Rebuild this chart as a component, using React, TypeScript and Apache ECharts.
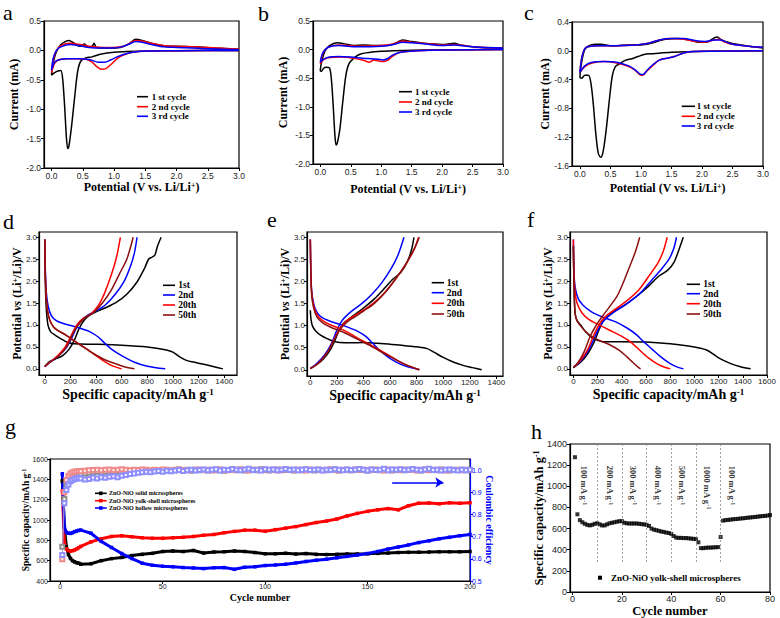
import React, { useEffect, useRef } from 'react';
import * as echarts from 'echarts';

const SERIF = '"Liberation Serif", "Times New Roman", serif';
const SANS = '"Liberation Sans", Arial, sans-serif';

// ---------- tick values ----------
const cvTicksX = [0, 0.5, 1, 1.5, 2, 2.5, 3];
const cvTicksYab = [-2, -1.5, -1, -0.5, 0, 0.5];
const cvTicksYc = [-1.6, -1.2, -0.8, -0.4, 0, 0.4];
const gcTicksY = [0, 0.5, 1, 1.5, 2, 2.5, 3];
const gcTicksXde = [0, 200, 400, 600, 800, 1000, 1200, 1400];
const gcTicksXf = [0, 200, 400, 600, 800, 1000, 1200, 1400, 1600];
const gTicksX = [0, 50, 100, 150, 200];
const gTicksY = [400, 600, 800, 1000, 1200, 1400, 1600];
const gTicksCE = [0.5, 0.6, 0.7, 0.8, 0.9, 1.0];
const hTicksX = [0, 20, 40, 60, 80];
const hTicksY = [0, 200, 400, 600, 800, 1000, 1200, 1400];

// ---------- CV curves (potential V, current mA) ----------
const cvA1 = [[3.0,0.0],[2.0,-0.005],[1.5,-0.01],[1.2,-0.02],[1.0,-0.03],[0.8,-0.06],[0.65,-0.11],[0.55,-0.13],[0.47,-0.18],[0.42,-0.35],[0.37,-0.8],[0.32,-1.3],[0.28,-1.62],[0.26,-1.67],[0.24,-1.5],[0.21,-0.95],[0.18,-0.5],[0.15,-0.34],[0.1,-0.35],[0.05,-0.38],[0.0,-0.42],[0.03,-0.2],[0.08,-0.02],[0.15,0.1],[0.22,0.15],[0.28,0.17],[0.35,0.13],[0.45,0.07],[0.53,0.11],[0.58,0.06],[0.65,0.07],[0.68,0.12],[0.72,0.05],[0.9,0.04],[1.1,0.05],[1.25,0.12],[1.35,0.19],[1.45,0.17],[1.6,0.12],[1.8,0.08],[2.0,0.07],[2.3,0.06],[2.6,0.04],[3.0,0.02]];
const cvA2 = [[3.0,0.0],[2.0,-0.005],[1.5,-0.01],[1.3,-0.03],[1.15,-0.08],[1.05,-0.14],[0.95,-0.24],[0.87,-0.31],[0.8,-0.32],[0.73,-0.28],[0.65,-0.2],[0.55,-0.15],[0.4,-0.14],[0.25,-0.14],[0.12,-0.16],[0.05,-0.22],[0.0,-0.38],[0.03,-0.15],[0.08,0.0],[0.15,0.08],[0.3,0.12],[0.45,0.1],[0.6,0.07],[0.8,0.05],[1.0,0.05],[1.15,0.07],[1.25,0.12],[1.35,0.17],[1.45,0.16],[1.6,0.12],[1.8,0.08],[2.0,0.07],[2.5,0.05],[3.0,0.02]];
const cvA3 = [[3.0,0.0],[2.0,-0.005],[1.5,-0.01],[1.3,-0.03],[1.15,-0.07],[1.05,-0.11],[0.95,-0.16],[0.85,-0.2],[0.75,-0.2],[0.62,-0.16],[0.45,-0.14],[0.25,-0.14],[0.12,-0.16],[0.05,-0.2],[0.0,-0.34],[0.03,-0.12],[0.08,0.0],[0.15,0.06],[0.3,0.1],[0.45,0.08],[0.6,0.05],[0.8,0.04],[1.0,0.04],[1.15,0.07],[1.25,0.11],[1.35,0.15],[1.45,0.14],[1.6,0.1],[1.8,0.06],[2.0,0.05],[2.5,0.03],[3.0,0.01]];
const cvB1 = [[3.0,0.0],[2.0,-0.005],[1.5,-0.01],[1.2,-0.02],[1.0,-0.03],[0.8,-0.05],[0.65,-0.08],[0.55,-0.15],[0.47,-0.25],[0.42,-0.45],[0.37,-0.9],[0.32,-1.4],[0.28,-1.63],[0.26,-1.67],[0.24,-1.5],[0.21,-0.95],[0.18,-0.5],[0.15,-0.32],[0.1,-0.31],[0.05,-0.33],[0.02,-0.38],[0.0,-0.37],[0.03,-0.18],[0.08,-0.02],[0.15,0.07],[0.28,0.12],[0.4,0.1],[0.55,0.07],[0.7,0.08],[0.9,0.07],[1.1,0.07],[1.25,0.12],[1.35,0.17],[1.5,0.14],[1.7,0.11],[2.0,0.09],[2.2,0.11],[2.3,0.08],[2.6,0.04],[3.0,0.03]];
const cvB2 = [[3.0,0.0],[2.0,-0.005],[1.6,-0.02],[1.3,-0.05],[1.18,-0.12],[1.1,-0.19],[1.03,-0.21],[0.96,-0.2],[0.88,-0.18],[0.8,-0.22],[0.72,-0.19],[0.55,-0.15],[0.35,-0.13],[0.15,-0.14],[0.05,-0.18],[0.0,-0.25],[0.03,-0.1],[0.08,0.0],[0.15,0.05],[0.3,0.08],[0.6,0.06],[1.0,0.07],[1.2,0.1],[1.35,0.15],[1.5,0.13],[1.8,0.1],[2.0,0.08],[2.2,0.09],[2.35,0.07],[2.6,0.04],[3.0,0.03]];
const cvB3 = [[3.0,0.0],[2.0,-0.005],[1.6,-0.02],[1.3,-0.05],[1.18,-0.1],[1.1,-0.16],[1.03,-0.18],[0.95,-0.17],[0.85,-0.16],[0.7,-0.15],[0.5,-0.13],[0.3,-0.12],[0.15,-0.13],[0.05,-0.17],[0.0,-0.22],[0.03,-0.08],[0.08,0.0],[0.15,0.05],[0.3,0.07],[0.6,0.05],[1.0,0.06],[1.2,0.09],[1.35,0.13],[1.5,0.12],[1.8,0.09],[2.0,0.07],[2.2,0.08],[2.4,0.06],[2.6,0.04],[3.0,0.03]];
const cvC1 = [[3.0,0.0],[2.0,-0.005],[1.5,-0.02],[1.2,-0.04],[1.05,-0.05],[0.95,-0.08],[0.85,-0.11],[0.75,-0.13],[0.65,-0.18],[0.58,-0.22],[0.53,-0.35],[0.48,-0.7],[0.43,-1.1],[0.38,-1.4],[0.34,-1.48],[0.3,-1.42],[0.26,-1.15],[0.22,-0.75],[0.18,-0.45],[0.14,-0.34],[0.08,-0.34],[0.03,-0.38],[0.0,-0.37],[0.03,-0.15],[0.08,0.02],[0.15,0.07],[0.25,0.09],[0.35,0.09],[0.5,0.07],[0.8,0.08],[1.0,0.08],[1.15,0.1],[1.3,0.14],[1.4,0.16],[1.6,0.17],[1.8,0.15],[1.95,0.12],[2.08,0.12],[2.2,0.18],[2.25,0.19],[2.32,0.15],[2.5,0.1],[2.8,0.06],[3.0,0.04]];
const cvC2 = [[3.0,0.0],[2.2,-0.005],[1.85,-0.01],[1.7,-0.03],[1.55,-0.08],[1.45,-0.1],[1.3,-0.13],[1.2,-0.2],[1.1,-0.28],[1.03,-0.34],[0.98,-0.33],[0.9,-0.27],[0.8,-0.22],[0.6,-0.17],[0.4,-0.15],[0.2,-0.17],[0.08,-0.22],[0.0,-0.3],[0.03,-0.1],[0.08,0.03],[0.15,0.06],[0.3,0.07],[0.6,0.07],[0.9,0.08],[1.1,0.1],[1.3,0.15],[1.5,0.17],[1.7,0.16],[1.9,0.13],[2.05,0.12],[2.2,0.15],[2.28,0.16],[2.35,0.13],[2.5,0.09],[2.8,0.06],[3.0,0.05]];
const cvC3 = [[3.0,0.0],[2.2,-0.005],[1.85,-0.01],[1.7,-0.03],[1.55,-0.08],[1.45,-0.1],[1.3,-0.13],[1.2,-0.19],[1.1,-0.27],[1.03,-0.33],[0.98,-0.32],[0.9,-0.26],[0.8,-0.21],[0.6,-0.16],[0.4,-0.15],[0.2,-0.16],[0.08,-0.21],[0.0,-0.3],[0.03,-0.1],[0.08,0.03],[0.15,0.06],[0.3,0.07],[0.6,0.07],[0.9,0.08],[1.1,0.1],[1.3,0.15],[1.5,0.17],[1.7,0.17],[1.9,0.14],[2.05,0.13],[2.2,0.15],[2.3,0.15],[2.4,0.12],[2.5,0.09],[2.8,0.06],[3.0,0.05]];

// ---------- charge / discharge curves (mAh/g, V) ----------
const dDis1 = [[0,2.95],[3,2.2],[8,1.6],[15,1.25],[25,1.0],[45,0.85],[80,0.77],[130,0.68],[180,0.6],[230,0.57],[400,0.56],[600,0.54],[800,0.5],[950,0.43],[1000,0.38],[1050,0.28],[1100,0.2],[1150,0.16],[1250,0.1],[1390,0.0]];
const dChg1 = [[0,0.05],[30,0.15],[80,0.22],[140,0.3],[190,0.45],[230,0.65],[265,0.9],[300,1.08],[340,1.2],[400,1.3],[480,1.4],[560,1.52],[640,1.7],[720,1.98],[780,2.3],[810,2.5],[840,2.55],[860,2.6],[880,2.8],[908,3.0]];
const dDis2 = [[0,2.95],[5,2.2],[12,1.75],[25,1.45],[50,1.22],[90,1.1],[150,1.03],[250,0.95],[350,0.85],[420,0.72],[470,0.58],[520,0.45],[600,0.3],[700,0.15],[800,0.06],[940,0.0]];
const dChg2 = [[0,0.05],[40,0.15],[100,0.28],[160,0.45],[210,0.7],[250,0.95],[290,1.12],[340,1.23],[400,1.32],[470,1.45],[550,1.7],[620,2.0],[670,2.35],[700,2.65],[720,3.0]];
const dDis20 = [[0,2.95],[4,2.2],[10,1.7],[20,1.35],[40,1.1],[70,0.95],[110,0.86],[150,0.8],[200,0.7],[260,0.58],[330,0.45],[400,0.3],[460,0.18],[520,0.08],[600,0.0]];
const dChg20 = [[0,0.05],[40,0.15],[100,0.3],[160,0.5],[210,0.78],[250,1.0],[300,1.15],[360,1.25],[420,1.45],[470,1.75],[520,2.15],[560,2.55],[590,3.0]];
const dDis50 = [[0,2.95],[4,2.2],[10,1.7],[20,1.35],[40,1.1],[70,0.95],[110,0.86],[160,0.78],[220,0.66],[300,0.5],[380,0.35],[460,0.22],[550,0.12],[620,0.05],[700,0.0]];
const dChg50 = [[0,0.05],[40,0.15],[110,0.3],[170,0.5],[220,0.8],[260,1.0],[320,1.18],[380,1.28],[450,1.5],[520,1.8],[580,2.15],[640,2.5],[690,3.0]];

const eDis1 = [[0,1.35],[5,1.15],[15,1.0],[40,0.88],[80,0.78],[130,0.7],[180,0.64],[220,0.62],[300,0.61],[400,0.62],[500,0.6],[600,0.58],[700,0.55],[800,0.52],[880,0.48],[930,0.4],[1000,0.28],[1080,0.17],[1150,0.1],[1220,0.05],[1290,0.0]];
const eChg1 = [[0,0.03],[50,0.12],[100,0.25],[150,0.45],[190,0.7],[225,0.95],[260,1.08],[320,1.22],[400,1.4],[480,1.6],[560,1.85],[620,2.05],[680,2.2],[730,2.45],[760,2.7],[780,3.0]];
const eDis2 = [[0,2.95],[4,2.2],[10,1.8],[25,1.5],[50,1.3],[90,1.18],[150,1.1],[250,1.0],[350,0.88],[420,0.75],[470,0.6],[520,0.45],[580,0.3],[650,0.17],[720,0.08],[800,0.02],[820,0.0]];
const eChg2 = [[0,0.03],[50,0.15],[110,0.35],[160,0.6],[200,0.9],[240,1.12],[300,1.3],[380,1.48],[460,1.7],[540,1.98],[610,2.3],[660,2.6],[705,3.0]];
const eDis20 = [[0,2.95],[4,2.2],[10,1.75],[25,1.45],[50,1.25],[90,1.12],[150,1.02],[250,0.9],[350,0.73],[450,0.57],[550,0.4],[650,0.22],[730,0.1],[820,0.0]];
const eChg20 = [[0,0.03],[60,0.15],[130,0.4],[180,0.7],[220,0.92],[270,1.1],[330,1.22],[400,1.35],[480,1.52],[560,1.75],[640,2.05],[720,2.4],[780,2.72],[815,3.0]];
const eDis50 = [[0,2.95],[4,2.2],[10,1.7],[25,1.4],[50,1.2],[90,1.07],[150,0.97],[250,0.85],[350,0.7],[450,0.55],[550,0.38],[650,0.22],[730,0.1],[820,0.0]];
const eChg50 = [[0,0.03],[60,0.15],[130,0.4],[180,0.68],[225,0.92],[275,1.08],[335,1.2],[400,1.33],[480,1.5],[560,1.74],[640,2.05],[720,2.4],[780,2.72],[820,3.0]];

const fDis1 = [[0,2.8],[3,2.2],[8,1.6],[15,1.25],[30,1.1],[60,1.0],[100,0.85],[150,0.72],[200,0.65],[250,0.62],[400,0.62],[600,0.61],[800,0.57],[950,0.52],[1050,0.47],[1100,0.43],[1150,0.35],[1200,0.25],[1300,0.12],[1380,0.05],[1465,0.0]];
const fChg1 = [[0,0.03],[60,0.15],[120,0.35],[170,0.6],[210,0.88],[250,1.1],[320,1.28],[420,1.45],[520,1.65],[620,1.88],[700,2.1],[780,2.25],[830,2.42],[870,2.7],[908,3.0]];
const fDis2 = [[0,2.95],[5,2.2],[15,1.85],[40,1.6],[80,1.45],[150,1.3],[250,1.17],[350,1.07],[450,0.92],[520,0.78],[580,0.62],[650,0.45],[720,0.28],[800,0.12],[860,0.04],[910,0.0]];
const fChg2 = [[0,0.03],[60,0.18],[130,0.45],[180,0.75],[225,1.0],[270,1.15],[350,1.32],[450,1.5],[550,1.72],[640,2.0],[720,2.25],[790,2.5],[830,2.75],[852,3.0]];
const fDis20 = [[0,2.95],[4,2.2],[12,1.8],[30,1.5],[70,1.28],[130,1.12],[200,1.02],[300,0.88],[400,0.74],[480,0.6],[550,0.42],[620,0.25],[700,0.1],[760,0.03],[800,0.0]];
const fChg20 = [[0,0.03],[60,0.2],[120,0.45],[170,0.78],[215,1.02],[260,1.18],[340,1.35],[440,1.55],[540,1.8],[620,2.1],[700,2.42],[745,2.7],[775,3.0]];
const fDis50 = [[0,2.8],[3,2.2],[8,1.6],[15,1.25],[30,1.1],[60,0.98],[100,0.85],[150,0.74],[220,0.64],[300,0.55],[380,0.42],[440,0.28],[490,0.15],[530,0.05],[555,0.0]];
const fChg50 = [[0,0.03],[40,0.15],[90,0.4],[140,0.75],[190,1.0],[240,1.2],[300,1.42],[360,1.65],[410,1.95],[460,2.3],[510,2.65],[548,3.0]];

// ---------- cycling (g) ----------
const gCycles = [1,2,3,4,5,6,7,8,9,10,15,20,25,30,35,40,45,50,55,60,65,70,75,80,85,90,95,100,105,110,115,120,125,130,135,140,145,150,155,160,165,170,175,180,185,190,195,200];
const capSolid = [1385,930,738,660,622,600,588,580,575,565,570,600,620,632,650,662,672,690,695,690,700,675,685,688,695,690,680,668,668,672,665,670,662,660,662,665,665,668,672,675,680,682,683,685,688,688,688,690];
const capYolk = [1287,785,715,700,695,698,705,715,728,740,785,815,838,845,835,825,820,820,825,830,838,850,858,875,888,900,900,890,905,920,935,955,975,990,1010,1040,1065,1085,1100,1112,1100,1140,1165,1168,1160,1170,1165,1170];
const capHollow = [1455,930,878,870,868,875,885,892,898,901,870,790,730,670,621,575,555,545,540,532,528,522,530,532,515,535,540,552,558,565,578,592,604,615,628,642,655,670,690,715,735,755,778,795,815,830,845,858];

const ceCyclesEarly = [1,2,3,4,5,6,7,8,9];
const ceSolidEarly = [0.654,0.87,0.93,0.95,0.965,0.97,0.975,0.978,0.98];
const ceYolkEarly = [0.598,0.9,0.955,0.975,0.985,0.99,0.992,0.995,0.996];
const ceHollowEarly = [0.617,0.85,0.91,0.935,0.95,0.955,0.96,0.962,0.965];
// cycles 10,12,...,200
const ceSolidLate = [0.982,0.985,0.988,0.990,0.992,0.990,0.993,0.995,0.992,0.996,0.994,0.997,0.995,0.993,0.996,0.998,0.995,0.997,0.999,0.996,0.998,1.000,0.997,0.999,1.002,0.998,1.000,0.997,1.001,0.999,1.000,0.998,1.002,0.999,1.001,0.997,1.000,1.003,0.999,1.001,0.998,1.002,1.000,0.999,1.004,1.000,0.998,1.001,1.003,0.999,1.000,1.002,0.998,1.001,0.999,1.003,1.000,0.998,1.002,1.000,0.999,1.001,1.003,0.998,1.000,1.002,0.999,1.001,1.004,1.000,0.998,1.002,1.000,0.999,1.003,1.001,0.998,1.000,1.002,0.999,1.001,1.004,1.000,0.998,1.002,1.000,1.001,0.999,1.003,1.000,0.998,1.002,1.000,1.001,0.999,1.000];
const ceYolkLate = [0.995,0.997,0.999,1.000,1.002,0.999,1.001,1.003,1.000,1.002,1.004,1.001,0.999,1.002,1.000,1.003,1.001,0.998,1.002,1.000,1.003,1.001,0.999,1.002,1.004,1.000,1.002,0.999,1.001,1.003,1.000,1.002,0.998,1.001,1.003,1.000,0.999,1.002,1.001,1.004,1.000,0.998,1.002,1.001,0.999,1.003,1.000,1.002,0.998,1.001,1.003,1.000,0.999,1.002,1.001,0.998,1.003,1.000,1.002,0.999,1.001,1.004,1.000,0.998,1.002,1.001,0.999,1.003,1.000,1.002,0.999,1.001,1.003,1.000,0.998,1.002,1.000,1.001,0.999,1.003,1.000,1.002,0.998,1.001,1.003,0.999,1.000,1.002,1.001,0.998,1.002,1.000,1.001,0.999,1.002,1.000];
const ceHollowLate = [0.962,0.958,0.960,0.965,0.962,0.968,0.965,0.970,0.972,0.968,0.975,0.978,0.982,0.985,0.988,0.990,0.992,0.990,0.994,0.996,0.993,0.997,0.995,0.998,1.000,0.996,0.999,1.002,0.998,1.000,1.003,0.999,1.001,1.004,0.998,1.002,1.000,1.005,1.001,0.999,1.003,1.006,1.000,1.002,0.998,1.004,1.001,1.003,0.999,1.002,1.005,1.000,1.003,0.999,1.002,1.004,1.000,1.001,1.003,0.998,1.002,1.000,1.004,1.001,0.999,1.003,1.000,1.002,1.005,1.001,0.998,1.003,1.000,1.002,1.006,0.999,1.003,1.001,1.004,1.000,1.002,1.005,1.001,0.999,1.003,1.006,1.000,1.002,0.998,1.001,1.003,1.000,0.998,1.002,0.999,1.001];
const ceCyclesLate = ceSolidLate.map((_, i) => 10 + 2 * i);

// ---------- rate (h) ----------
const hRate = [1275,735,680,660,645,635,630,635,645,650,640,630,630,640,650,655,660,665,670,670,655,650,648,648,648,648,645,642,640,635,625,600,590,585,578,572,568,562,558,550,530,515,512,512,510,510,508,505,503,500,470,415,415,418,420,420,422,423,425,520,675,680,682,685,688,690,692,695,697,700,703,705,708,710,713,716,718,720,723,728];
const hBounds = [10, 20, 30, 40, 50, 60];
const hRateNames = ['100', '200', '300', '400', '500', '1000', '100'];
const hRateLabelX = [4.5, 15, 24.6, 34.5, 44.3, 54.5, 64.5];

// ---------- helpers ----------
const nameRich = (fs: number) => ({
  a: { fontFamily: SERIF, fontWeight: 'bold', fontSize: fs, color: '#000' },
  i: { fontFamily: SERIF, fontWeight: 'bold', fontStyle: 'italic', fontSize: fs, color: '#000' },
  s: { fontFamily: SERIF, fontWeight: 'bold', fontSize: Math.round(fs * 0.65), color: '#000', verticalAlign: 'top' },
});

const f1 = (v: number) => v.toFixed(1);
const f0 = (v: number) => String(Math.round(v));

function axis(o: any) {
  const color = o.color || '#000';
  const a: any = {
    type: 'value',
    gridIndex: o.grid,
    min: o.min,
    max: o.max,
    position: o.position,
    axisLine: { show: true, onZero: false, lineStyle: { color, width: 1.2 } },
    axisTick: { show: true, inside: false, length: 3, customValues: o.ticks, lineStyle: { color, width: 1 } },
    axisLabel: {
      show: true,
      customValues: o.ticks,
      formatter: o.fmt,
      fontFamily: SANS,
      fontSize: o.lfs || 8.5,
      color: o.lcolor || '#222',
      margin: o.lmargin != null ? o.lmargin : 3,
    },
    splitLine: { show: false },
    name: o.name,
    nameLocation: 'middle',
    nameGap: o.gap,
    nameMoveOverlap: false,
    nameRotate: o.nameRotate,
    nameTextStyle: { fontFamily: SERIF, fontWeight: 'bold', fontSize: o.nfs, color: o.ncolor || '#000', rich: o.rich || nameRich(o.nfs) },
  };
  return a;
}

function ln(idx: number, data: number[][], color: string, width = 1.5, smooth: number | boolean = 0.3) {
  return {
    type: 'line', xAxisIndex: idx, yAxisIndex: idx, data, showSymbol: false, symbol: 'none',
    smooth, lineStyle: { color, width }, itemStyle: { color }, silent: true, z: 3,
  };
}

const BLACK = '#000000';
const RED = '#ff0000';
const BLUE = '#0000ff';
const DRED = '#8b1010';

const potName = '{a|Potential (V vs. Li/Li}{s|+}{a|)}';
const vName = '{a|Potential }{i|vs}{a| (Li}{s|+}{a|/Li)/V}';
const capName = '{a|Specific capacity/mAh g}{s|-1}';

function legendLine(x1: number, x2: number, y: number, color: string) {
  return { type: 'line', shape: { x1, y1: y, x2, y2: y }, style: { stroke: color, lineWidth: 1.6 }, z: 100 };
}
function legendText(x: number, y: number, text: string, fs: number) {
  return { type: 'text', x, y, style: { text, fill: '#000', fontFamily: SERIF, fontWeight: 'bold', fontSize: fs, verticalAlign: 'middle', align: 'left' }, z: 100 };
}
function panelLetter(x: number, y: number, t: string) {
  return { type: 'text', x, y, style: { text: t, fill: '#000', fontFamily: SERIF, fontSize: 22, verticalAlign: 'bottom', align: 'left' }, z: 101 };
}

function buildOption() {
  const grids = [
    { left: 44, top: 21, width: 195, height: 147 },
    { left: 313, top: 21, width: 190, height: 143 },
    { left: 572, top: 22, width: 191, height: 144 },
    { left: 39, top: 232, width: 198, height: 143 },
    { left: 307, top: 232, width: 196, height: 144 },
    { left: 570, top: 232, width: 197, height: 143 },
    { left: 50, top: 459, width: 420, height: 122 },
    { left: 570, top: 444, width: 200, height: 149 },
  ].map((g) => ({ ...g, show: true, borderColor: '#000', borderWidth: 1.2, backgroundColor: 'transparent' }));

  const xAxis = [
    axis({ grid: 0, min: -0.12, max: 3, ticks: cvTicksX, fmt: f1, name: potName, gap: 13, nfs: 12 }),
    axis({ grid: 1, min: -0.12, max: 3, ticks: cvTicksX, fmt: f1, name: potName, gap: 19, nfs: 12 }),
    axis({ grid: 2, min: -0.13, max: 3, ticks: cvTicksX, fmt: f1, name: potName, gap: 16, nfs: 12 }),
    axis({ grid: 3, min: -45, max: 1500, ticks: gcTicksXde, fmt: f0, name: capName, gap: 12, nfs: 14, lfs: 8, lmargin: 2 }),
    axis({ grid: 4, min: -25, max: 1450, ticks: gcTicksXde, fmt: f0, name: capName, gap: 12, nfs: 14, lfs: 8, lmargin: 2 }),
    axis({ grid: 5, min: -28, max: 1600, ticks: gcTicksXf, fmt: f0, name: capName, gap: 12, nfs: 14, lfs: 8, lmargin: 2 }),
    axis({ grid: 6, min: -5, max: 200, ticks: gTicksX, fmt: f0, name: 'Cycle number', gap: 11, nfs: 10, lfs: 7, lmargin: 2 }),
    axis({ grid: 7, min: -1, max: 80, ticks: hTicksX, fmt: f0, name: 'Cycle number', gap: 12, nfs: 12.5, lfs: 9, lmargin: 2 }),
  ];
  const yAxis = [
    axis({ grid: 0, min: -2, max: 0.5, ticks: cvTicksYab, fmt: f1, name: 'Current (mA)', gap: 24, nfs: 12 }),
    axis({ grid: 1, min: -2, max: 0.5, ticks: cvTicksYab, fmt: f1, name: 'Current (mA)', gap: 24, nfs: 12 }),
    axis({ grid: 2, min: -1.6, max: 0.4, ticks: cvTicksYc, fmt: f1, name: 'Current (mA)', gap: 21, nfs: 12 }),
    axis({ grid: 3, min: -0.14, max: 3.12, ticks: gcTicksY, fmt: f1, name: vName, gap: 16, nfs: 12, lfs: 8, lmargin: 2 }),
    axis({ grid: 4, min: -0.14, max: 3.12, ticks: gcTicksY, fmt: f1, name: vName, gap: 16, nfs: 12, lfs: 8, lmargin: 2 }),
    axis({ grid: 5, min: -0.14, max: 3.12, ticks: gcTicksY, fmt: f1, name: vName, gap: 16, nfs: 12, lfs: 8, lmargin: 2 }),
    axis({ grid: 6, min: 400, max: 1600, ticks: gTicksY, fmt: f0, name: capName, gap: 19, nfs: 9.5, lfs: 7, lmargin: 2 }),
    axis({ grid: 7, min: 0, max: 1400, ticks: hTicksY, fmt: f0, name: capName, gap: 25, nfs: 12.5, lfs: 9 }),
    axis({ grid: 6, min: 0.5, max: 1.05, ticks: gTicksCE, fmt: f1, name: 'Coulombic efficiency', gap: 14, nfs: 10, lfs: 7, lmargin: 2, position: 'right', color: BLUE, lcolor: BLUE, ncolor: BLUE, nameRotate: -90,
      rich: { a: { fontFamily: SERIF, fontWeight: 'bold', fontSize: 10, color: BLUE } } }),
  ];

  const series: any[] = [
    ln(0, cvA1, BLACK), ln(0, cvA2, RED), ln(0, cvA3, BLUE),
    ln(1, cvB1, BLACK), ln(1, cvB2, RED), ln(1, cvB3, BLUE),
    ln(2, cvC1, BLACK), ln(2, cvC2, RED), ln(2, cvC3, BLUE),
    ln(3, dDis1, BLACK), ln(3, dChg1, BLACK), ln(3, dDis2, BLUE), ln(3, dChg2, BLUE),
    ln(3, dDis20, RED), ln(3, dChg20, RED), ln(3, dDis50, DRED), ln(3, dChg50, DRED),
    ln(4, eDis1, BLACK), ln(4, eChg1, BLACK), ln(4, eDis2, BLUE), ln(4, eChg2, BLUE),
    ln(4, eDis20, RED), ln(4, eChg20, RED), ln(4, eDis50, DRED), ln(4, eChg50, DRED),
    ln(5, fDis1, BLACK), ln(5, fChg1, BLACK), ln(5, fDis2, BLUE), ln(5, fChg2, BLUE),
    ln(5, fDis20, RED), ln(5, fChg20, RED), ln(5, fDis50, DRED), ln(5, fChg50, DRED),
  ];

  const capSeries = (vals: number[], color: string) => ({
    type: 'line', xAxisIndex: 6, yAxisIndex: 6,
    data: gCycles.map((c, i) => [c, vals[i]]),
    symbol: 'rect', symbolSize: 3.5, showSymbol: true,
    lineStyle: { color, width: 3 }, itemStyle: { color }, silent: true, z: 3,
  });
  const ceSeries = (early: number[], late: number[], color: string, extra: any = {}) => ({
    type: 'line', xAxisIndex: 6, yAxisIndex: 8,
    data: ceCyclesEarly.map((c, i) => [c, early[i]]).concat(ceCyclesLate.map((c, i) => [c, late[i]])),
    symbol: 'emptyRect', symbolSize: 4, showSymbol: true,
    lineStyle: { color, width: 0.7 }, itemStyle: { color, borderWidth: 0.8 }, silent: true, z: 4,
    ...extra,
  });
  series.push(
    capSeries(capSolid, BLACK),
    capSeries(capYolk, RED),
    capSeries(capHollow, BLUE),
    ceSeries(ceSolidEarly, ceSolidLate, '#8c8c8c'),
    ceSeries(ceYolkEarly, ceYolkLate, '#f08a8a'),
    ceSeries(ceHollowEarly, ceHollowLate, '#8f8fff', {
      markLine: {
        silent: true, symbol: ['none', 'arrow'], symbolSize: 8,
        label: { show: false },
        lineStyle: { color: BLUE, width: 1.5, type: 'solid' },
        data: [[{ coord: [162, 0.944] }, { coord: [187, 0.944] }]],
      },
    }),
  );

  series.push({
    type: 'scatter', xAxisIndex: 7, yAxisIndex: 7,
    data: hRate.map((v, i) => [i + 1, v]),
    symbol: 'rect', symbolSize: 4, itemStyle: { color: BLACK }, silent: true, z: 3,
    markLine: {
      silent: true, symbol: ['none', 'none'], label: { show: false },
      lineStyle: { color: '#888', width: 0.8, type: [2, 2] },
      data: hBounds.map((b) => [{ coord: [b, 1400] }, { coord: [b, 280] }]),
    },
  });
  series.push({
    type: 'scatter', xAxisIndex: 7, yAxisIndex: 7,
    data: hRateNames.map((n, i) => ({ name: n, value: [hRateLabelX[i], 1195] })),
    symbolSize: 0, silent: true, z: 5,
    label: {
      show: true, position: 'inside', rotate: -90, align: 'left', verticalAlign: 'middle',
      formatter: (p: any) => `{a|${p.name} mA g}{s|-1}`,
      rich: {
        a: { fontFamily: SERIF, fontWeight: 'bold', fontSize: 8.5, color: '#000' },
        s: { fontFamily: SERIF, fontWeight: 'bold', fontSize: 6, color: '#000', verticalAlign: 'top' },
      },
    },
  });

  const graphic: any[] = [
    // legends a-c
    legendLine(137, 148, 96.7, BLACK), legendText(151.7, 96.7, '1 st cycle', 9),
    legendLine(137, 148, 106.7, RED), legendText(151.7, 106.7, '2 nd cycle', 9),
    legendLine(137, 148, 116.3, BLUE), legendText(151.7, 116.3, '3 rd cycle', 9),
    legendLine(399, 412, 91.7, BLACK), legendText(415, 91.7, '1 st cycle', 9),
    legendLine(399, 412, 102, RED), legendText(415, 102, '2 nd cycle', 9),
    legendLine(399, 412, 112, BLUE), legendText(415, 112, '3 rd cycle', 9),
    legendLine(681.7, 695, 106.3, BLACK), legendText(696.7, 106.3, '1 st cycle', 9),
    legendLine(681.7, 695, 116.3, RED), legendText(696.7, 116.3, '2 nd cycle', 9),
    legendLine(681.7, 695, 126, BLUE), legendText(696.7, 126, '3 rd cycle', 9),
    // legends d-f
    legendLine(163, 175, 285.3, BLACK), legendText(178.3, 285.3, '1st', 9.5),
    legendLine(163, 175, 295, BLUE), legendText(178.3, 295, '2nd', 9.5),
    legendLine(163, 175, 305, RED), legendText(178.3, 305, '20th', 9.5),
    legendLine(163, 175, 315, DRED), legendText(178.3, 315, '50th', 9.5),
    legendLine(431.7, 444, 282.7, BLACK), legendText(446.7, 282.7, '1st', 9.5),
    legendLine(431.7, 444, 292.7, BLUE), legendText(446.7, 292.7, '2nd', 9.5),
    legendLine(431.7, 444, 303.3, RED), legendText(446.7, 303.3, '20th', 9.5),
    legendLine(431.7, 444, 314, DRED), legendText(446.7, 314, '50th', 9.5),
    legendLine(686.7, 700, 284.3, BLACK), legendText(703.3, 284.3, '1st', 9.5),
    legendLine(686.7, 700, 293.7, BLUE), legendText(703.3, 293.7, '2nd', 9.5),
    legendLine(686.7, 700, 303.7, RED), legendText(703.3, 303.7, '20th', 9.5),
    legendLine(686.7, 700, 314, DRED), legendText(703.3, 314, '50th', 9.5),
    // legend g
    legendLine(95, 106.7, 493.3, BLACK), { type: 'rect', shape: { x: 99, y: 491.5, width: 3.6, height: 3.6 }, style: { fill: BLACK }, z: 100 },
    legendText(109, 493.3, 'ZnO-NiO solid microspheres', 6),
    legendLine(95, 106.7, 500.7, RED), { type: 'rect', shape: { x: 99, y: 498.9, width: 3.6, height: 3.6 }, style: { fill: RED }, z: 100 },
    legendText(109, 500.7, 'ZnO-NiO yolk-shell microspheres', 6),
    legendLine(95, 106.7, 508, BLUE), { type: 'rect', shape: { x: 99, y: 506.2, width: 3.6, height: 3.6 }, style: { fill: BLUE }, z: 100 },
    legendText(109, 508, 'ZnO-NiO hollow microspheres', 6),
    // legend h
    { type: 'rect', shape: { x: 598, y: 575.7, width: 4, height: 4 }, style: { fill: BLACK }, z: 100 },
    legendText(611, 577.7, 'ZnO-NiO yolk-shell microspheres', 9),
    panelLetter(3, 23, 'a'), panelLetter(258, 24, 'b'), panelLetter(524, 23, 'c'),
    panelLetter(3, 232, 'd'), panelLetter(267, 230, 'e'), panelLetter(527, 230, 'f'),
    panelLetter(5, 437, 'g'), panelLetter(531, 442, 'h'),
  ];

  return {
    animation: false,
    backgroundColor: '#ffffff',
    grid: grids,
    xAxis,
    yAxis,
    series,
    graphic,
  };
}

export default function App() {
  const ref = useRef<HTMLDivElement>(null);
  useEffect(() => {
    document.body.style.margin = '0';
    const chart = echarts.init(ref.current!, null, { renderer: 'svg' });
    chart.setOption(buildOption() as any);
    return () => chart.dispose();
  }, []);
  return <div ref={ref} style={{ width: 780, height: 618 }} />;
}
